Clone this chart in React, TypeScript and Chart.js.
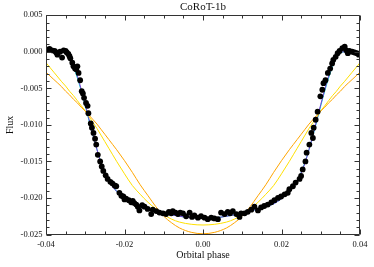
import React, { useEffect, useRef } from 'react';
import { Chart, registerables } from 'chart.js';

Chart.register(...registerables);

const TITLE = 'CoRoT-1b';
const X_LABEL = 'Orbital phase';
const Y_LABEL = 'Flux';
const X_TICKS = [-0.04, -0.02, 0, 0.02, 0.04];
const Y_TICKS = [-0.025, -0.02, -0.015, -0.01, -0.005, 0, 0.005];

const obsPhase = [
  -0.0398, -0.0391, -0.0385, -0.0378, -0.0374, -0.0371, -0.0364, -0.0359, -0.0355, -0.035,
  -0.0347, -0.0343, -0.034, -0.0338, -0.0333, -0.033, -0.0326, -0.0323, -0.032, -0.0317,
  -0.0313, -0.0309, -0.0306, -0.0303, -0.0298, -0.0294, -0.0292, -0.0286, -0.0283, -0.0279,
  -0.0275, -0.0272, -0.0268, -0.0262, -0.0258, -0.0254, -0.0248, -0.0243, -0.0236, -0.0231,
  -0.0225, -0.0221, -0.0213, -0.0208, -0.0203, -0.02, -0.0196, -0.0189, -0.0183, -0.0179,
  -0.0175, -0.017, -0.0166, -0.0162, -0.0155, -0.0149, -0.0141, -0.0132, -0.0128, -0.0119,
  -0.0111, -0.0102, -0.0094, -0.0087, -0.0081, -0.0077, -0.007, -0.0064, -0.0058, -0.0051,
  -0.0043, -0.0034, -0.0028, -0.0022, -0.0013, -0.0005, 0.0004, 0.0012, 0.0021, 0.0029,
  0.0038, 0.0046, 0.0055, 0.0063, 0.0069, 0.0076, 0.0085, 0.0093, 0.0097, 0.0106,
  0.0114, 0.0123, 0.0131, 0.014, 0.0148, 0.0156, 0.0165, 0.0174, 0.0182, 0.0191,
  0.0199, 0.0208, 0.0216, 0.022, 0.0229, 0.0236, 0.0246, 0.025, 0.0254, 0.0261,
  0.0264, 0.0271, 0.0276, 0.028, 0.0282, 0.0287, 0.0292, 0.0299, 0.0304, 0.0307,
  0.0312, 0.0318, 0.0324, 0.0329, 0.0332, 0.0338, 0.0343, 0.0348, 0.0355, 0.0361,
  0.0365, 0.0369, 0.0373, 0.038, 0.0386, 0.0392, 0.0397,
];
const obsFlux = [
  0.0003, 0.0004, 0.0002, 0.0001, -0.0001, -0.0004, 0.0, -0.0008, 0.0002, 0.0001,
  -0.0001, -0.0003, -0.0006, -0.0009, -0.0015, -0.002, -0.0023, -0.0024, -0.002, -0.0029,
  -0.0039, -0.0054, -0.0057, -0.0063, -0.007, -0.0074, -0.0084, -0.0098, -0.0104, -0.0111,
  -0.0119, -0.0127, -0.0141, -0.015, -0.0157, -0.0163, -0.0169, -0.0174, -0.0178, -0.018,
  -0.0183, -0.0184, -0.0193, -0.0197, -0.0198, -0.0202, -0.0201, -0.0203, -0.0206, -0.0204,
  -0.0207, -0.0209, -0.0212, -0.0217, -0.021, -0.0212, -0.0215, -0.0222, -0.0216, -0.0218,
  -0.022, -0.0221, -0.0222, -0.0219, -0.0221, -0.0218, -0.022, -0.0222, -0.022, -0.0221,
  -0.0225, -0.022, -0.0226, -0.0224, -0.0227, -0.0225, -0.0227, -0.0229, -0.0227, -0.0228,
  -0.0229, -0.022, -0.0222, -0.0219, -0.0221, -0.0218, -0.0222, -0.0226, -0.0221, -0.0221,
  -0.0219, -0.0216, -0.0212, -0.0217, -0.0213, -0.0211, -0.0209, -0.0206, -0.0203, -0.02,
  -0.0198, -0.0195, -0.0193, -0.0188, -0.0184, -0.0179, -0.0174, -0.017, -0.0161, -0.015,
  -0.0138, -0.0127, -0.0111, -0.0118, -0.0104, -0.0093, -0.0082, -0.0061, -0.0052, -0.0043,
  -0.0039, -0.0029, -0.0023, -0.0016, -0.0011, -0.0007, -0.0002, 0.0001, 0.0005, 0.0007,
  0.0002, -0.0002, 0.0001, 0.0, -0.0001, -0.0002, -0.0004,
];

const modelPhase = [
  -0.04, -0.038, -0.036, -0.035, -0.034, -0.033, -0.032, -0.031, -0.03, -0.029,
  -0.028, -0.027, -0.026, -0.025, -0.024, -0.023, -0.022, -0.02, -0.018, -0.016,
  -0.014, -0.012, -0.01, -0.008, -0.006, -0.003, 0,
  0.003, 0.006, 0.008, 0.01, 0.012, 0.014, 0.016, 0.018, 0.02, 0.022,
  0.023, 0.024, 0.025, 0.026, 0.027, 0.028, 0.029, 0.03, 0.031, 0.032,
  0.033, 0.034, 0.035, 0.036, 0.038, 0.04,
];
const fitFluxCyan = [
  0.0, 0.0, 0.0, -0.0002, -0.0008, -0.002, -0.0036, -0.0054, -0.0074, -0.0095,
  -0.0115, -0.0134, -0.0151, -0.0165, -0.0176, -0.0184, -0.0191, -0.0201, -0.0208, -0.0212,
  -0.0215, -0.0218, -0.0221, -0.0223, -0.0225, -0.0227, -0.0227,
  -0.0227, -0.0225, -0.0223, -0.0221, -0.0218, -0.0215, -0.0212, -0.0208, -0.0201, -0.0191,
  -0.0184, -0.0176, -0.0165, -0.0151, -0.0134, -0.0115, -0.0095, -0.0074, -0.0054, -0.0036,
  -0.002, -0.0008, -0.0002, 0.0, 0.0, 0.0,
];
const fitFluxPurple = [
  0.0, 0.0, 0.0, -0.0001, -0.0006, -0.0017, -0.0033, -0.0052, -0.0072, -0.0093,
  -0.0114, -0.0134, -0.0152, -0.0166, -0.0177, -0.0185, -0.0191, -0.0201, -0.0208, -0.0212,
  -0.0215, -0.0218, -0.0221, -0.0223, -0.0225, -0.0227, -0.0227,
  -0.0227, -0.0225, -0.0223, -0.0221, -0.0218, -0.0215, -0.0212, -0.0208, -0.0201, -0.0191,
  -0.0185, -0.0177, -0.0166, -0.0152, -0.0134, -0.0114, -0.0093, -0.0072, -0.0052, -0.0033,
  -0.0017, -0.0006, -0.0001, 0.0, 0.0, 0.0,
];
const altFluxYellow = [
  -0.0015, -0.0028, -0.0041, -0.0047, -0.0054, -0.006, -0.0067, -0.0074, -0.0081, -0.0089,
  -0.0097, -0.0105, -0.0114, -0.0123, -0.0132, -0.0141, -0.015, -0.0167, -0.0183, -0.0195,
  -0.0206, -0.0215, -0.0223, -0.0229, -0.0233, -0.0236, -0.0237,
  -0.0236, -0.0233, -0.0229, -0.0223, -0.0215, -0.0206, -0.0195, -0.0183, -0.0167, -0.015,
  -0.0141, -0.0132, -0.0123, -0.0114, -0.0105, -0.0097, -0.0089, -0.0081, -0.0074, -0.0067,
  -0.006, -0.0054, -0.0047, -0.0041, -0.0028, -0.0015,
];
const altFluxOrange = [
  -0.0028, -0.0038, -0.0048, -0.0054, -0.0059, -0.0065, -0.007, -0.0076, -0.0081, -0.0087,
  -0.0093, -0.0099, -0.0106, -0.0113, -0.012, -0.0127, -0.0134, -0.0149, -0.0165, -0.0182,
  -0.0197, -0.0212, -0.0225, -0.0234, -0.0241, -0.0247, -0.0249,
  -0.0247, -0.0241, -0.0234, -0.0225, -0.0212, -0.0197, -0.0182, -0.0165, -0.0149, -0.0134,
  -0.0127, -0.012, -0.0113, -0.0106, -0.0099, -0.0093, -0.0087, -0.0081, -0.0076, -0.007,
  -0.0065, -0.0059, -0.0054, -0.0048, -0.0038, -0.0028,
];

const FONT = "'Liberation Serif', 'Times New Roman', serif";

const framePlugin = {
  id: 'idlFrame',
  afterDraw(chart: any) {
    const { ctx, chartArea: a, scales } = chart;
    const L = Math.round(a.left) + 0.5;
    const R = Math.round(a.right) - 0.5;
    const T = Math.round(a.top) + 0.5;
    const B = Math.round(a.bottom) - 0.5;
    ctx.save();
    ctx.strokeStyle = '#333';
    ctx.lineWidth = 1;
    ctx.beginPath();
    ctx.rect(L, T, R - L, B - T);
    ctx.stroke();
    ctx.beginPath();
    for (let i = -8; i <= 8; i++) {
      const px = Math.round(scales.x.getPixelForValue(i * 0.005)) + 0.5;
      const len = i % 4 === 0 ? 5 : 3;
      ctx.moveTo(px, B);
      ctx.lineTo(px, B - len);
      ctx.moveTo(px, T);
      ctx.lineTo(px, T + len);
    }
    for (let i = -25; i <= 5; i++) {
      const py = Math.round(scales.y.getPixelForValue(i * 0.001)) + 0.5;
      const len = i % 5 === 0 ? 5 : 3;
      ctx.moveTo(L, py);
      ctx.lineTo(L + len, py);
      ctx.moveTo(R, py);
      ctx.lineTo(R - len, py);
    }
    ctx.stroke();
    ctx.restore();
  },
};

function pairs(xs: number[], ys: number[]) {
  return xs.map((x, i) => ({ x, y: ys[i] }));
}

export default function App() {
  const ref = useRef<HTMLCanvasElement>(null);
  useEffect(() => {
    document.body.style.margin = '0';
    const canvas = ref.current;
    if (!canvas) return;
    const lineDs = (label: string, ys: number[], color: string) => ({
      type: 'line' as const,
      label,
      data: pairs(modelPhase, ys),
      borderColor: color,
      backgroundColor: color,
      borderWidth: 1,
      pointRadius: 0,
      showLine: true,
      fill: false,
      cubicInterpolationMode: 'monotone' as const,
      order: 1,
    });
    const chart = new Chart(canvas, {
      type: 'scatter',
      data: {
        datasets: [
          {
            type: 'scatter',
            label: 'data',
            data: pairs(obsPhase, obsFlux),
            backgroundColor: '#000',
            borderColor: '#000',
            borderWidth: 0,
            pointRadius: 2.9,
            pointStyle: 'circle',
            order: 0,
          },
          lineDs('orange', altFluxOrange, '#ffa500'),
          lineDs('yellow', altFluxYellow, '#ffe000'),
          lineDs('purple', fitFluxPurple, '#7a3fd0'),
          lineDs('cyan', fitFluxCyan, '#00d2d2'),
        ] as any,
      },
      options: {
        responsive: false,
        animation: false,
        devicePixelRatio: 1,
        layout: { padding: { left: 0, right: 14, top: 0, bottom: 0 } },
        plugins: {
          legend: { display: false },
          tooltip: { enabled: false },
          title: {
            display: true,
            text: TITLE,
            fullSize: false,
            color: '#111',
            font: { family: FONT, size: 11, weight: 'normal' },
            padding: { top: 1, bottom: 1 },
          },
        },
        scales: {
          x: {
            type: 'linear',
            min: -0.04,
            max: 0.04,
            grid: { display: false, drawTicks: false },
            border: { display: false },
            afterBuildTicks: (s: any) => {
              s.ticks = X_TICKS.map((v) => ({ value: v }));
            },
            afterFit: (s: any) => {
              s.height = 32.5;
            },
            ticks: {
              autoSkip: false,
              maxRotation: 0,
              padding: 5,
              color: '#111',
              font: { family: FONT, size: 8.5 },
              callback: (v: any) => (Math.abs(v) < 1e-9 ? 0 : Number(v)).toFixed(2),
            },
            title: {
              display: true,
              text: X_LABEL,
              color: '#111',
              font: { family: FONT, size: 10 },
              padding: { top: 0, bottom: 6 },
            },
          },
          y: {
            type: 'linear',
            min: -0.025,
            max: 0.005,
            grid: { display: false, drawTicks: false },
            border: { display: false },
            afterBuildTicks: (s: any) => {
              s.ticks = Y_TICKS.map((v) => ({ value: v }));
            },
            afterFit: (s: any) => {
              s.width = 46;
            },
            ticks: {
              autoSkip: false,
              padding: 3.5,
              color: '#111',
              font: { family: FONT, size: 8.5 },
              callback: (v: any) => (Math.abs(v) < 1e-9 ? 0 : Number(v)).toFixed(3),
            },
            title: {
              display: true,
              text: Y_LABEL,
              color: '#111',
              font: { family: FONT, size: 10 },
              padding: { top: 4.5, bottom: 0 },
            },
          },
        },
      },
      plugins: [framePlugin],
    });
    return () => chart.destroy();
  }, []);
  return <canvas ref={ref} width={374} height={267} style={{ display: 'block' }} />;
}
